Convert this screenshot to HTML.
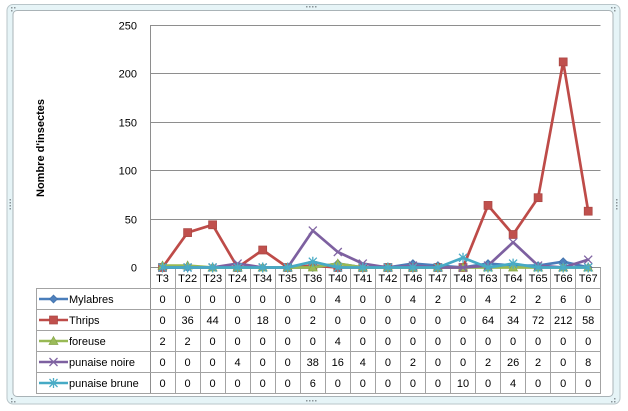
<!DOCTYPE html>
<html><head><meta charset="utf-8"><style>
html,body{margin:0;padding:0;background:#fff;}
svg{display:block;font-family:"Liberation Sans",sans-serif;}
</style></head><body>
<svg width="628" height="411" viewBox="0 0 628 411" xmlns="http://www.w3.org/2000/svg">
<defs>
<g id="mDia"><path d="M0,-4 L4,0 L0,4 L-4,0 Z" fill="#4F81BD" stroke="#3f6fa8" stroke-width="0.7"/></g>
<g id="mSq"><rect x="-4" y="-4" width="8" height="8" fill="#C0504D" stroke="#a84542" stroke-width="0.7"/></g>
<g id="mTri"><path d="M0,-4.5 L4.5,3.5 L-4.5,3.5 Z" fill="#9BBB59" stroke="#86a64a" stroke-width="0.7"/></g>
<g id="mX"><path d="M-4,-4 L4,4 M-4,4 L4,-4" stroke="#8064A2" stroke-width="1.3" fill="none"/></g>
<g id="mStar"><path d="M-4,-4 L4,4 M-4,4 L4,-4 M0,-5 L0,5" stroke="#4BACC6" stroke-width="1.3" fill="none"/></g>
</defs>
<!-- frame -->
<rect x="7" y="4.5" width="613" height="399.5" rx="6" fill="#e6f4f7" stroke="#b9c6ca" stroke-width="1"/>
<rect x="13" y="10.5" width="600" height="386" rx="4" fill="#ffffff" stroke="#a9b3b7" stroke-width="1"/>
<!-- handles -->
<g fill="#8a9599">
<rect x="306" y="6" width="1.5" height="1.5"/><rect x="309" y="6" width="1.5" height="1.5"/><rect x="312" y="6" width="1.5" height="1.5"/><rect x="315" y="6" width="1.5" height="1.5"/>
<rect x="306" y="400" width="1.5" height="1.5"/><rect x="309" y="400" width="1.5" height="1.5"/><rect x="312" y="400" width="1.5" height="1.5"/><rect x="315" y="400" width="1.5" height="1.5"/>
<rect x="9.5" y="199" width="1.5" height="1.5"/><rect x="9.5" y="202" width="1.5" height="1.5"/><rect x="9.5" y="205" width="1.5" height="1.5"/><rect x="9.5" y="208" width="1.5" height="1.5"/>
<rect x="616" y="199" width="1.5" height="1.5"/><rect x="616" y="202" width="1.5" height="1.5"/><rect x="616" y="205" width="1.5" height="1.5"/><rect x="616" y="208" width="1.5" height="1.5"/>
<rect x="11" y="7" width="1.5" height="1.5"/><rect x="14" y="7" width="1.5" height="1.5"/><rect x="11" y="10" width="1.5" height="1.5"/>
<rect x="614" y="398" width="1.5" height="1.5"/><rect x="614" y="401" width="1.5" height="1.5"/><rect x="611" y="401" width="1.5" height="1.5"/>
<rect x="611" y="7" width="1.5" height="1.5"/><rect x="614" y="7" width="1.5" height="1.5"/><rect x="614" y="10" width="1.5" height="1.5"/>
<rect x="11" y="398" width="1.5" height="1.5"/><rect x="11" y="401" width="1.5" height="1.5"/><rect x="14" y="401" width="1.5" height="1.5"/>
</g>
<!-- gridlines -->
<g stroke="#8e8e8e" stroke-width="1">
<line x1="150" y1="25.5" x2="600.5" y2="25.5"/>
<line x1="150" y1="73.5" x2="600.5" y2="73.5"/>
<line x1="150" y1="122.5" x2="600.5" y2="122.5"/>
<line x1="150" y1="170.5" x2="600.5" y2="170.5"/>
<line x1="150" y1="219.5" x2="600.5" y2="219.5"/>
<line x1="150.5" y1="25" x2="150.5" y2="393.5"/>
</g>
<!-- y tick labels -->
<g font-size="11" text-anchor="end" fill="#000">
<text x="137" y="29.5">250</text>
<text x="137" y="77.5">200</text>
<text x="137" y="126.5">150</text>
<text x="137" y="174.5">100</text>
<text x="137" y="223.5">50</text>
<text x="137" y="271.5">0</text>
</g>
<text transform="translate(44,148) rotate(-90)" font-size="11" font-weight="bold" text-anchor="middle">Nombre d'insectes</text>
<!-- table grid -->
<g stroke="#a3a3a3" stroke-width="1" fill="none">
<line x1="150" y1="267.5" x2="601" y2="267.5" stroke="#8e8e8e"/>
<line x1="36" y1="288.5" x2="601" y2="288.5"/>
<line x1="36" y1="309.5" x2="601" y2="309.5"/>
<line x1="36" y1="330.5" x2="601" y2="330.5"/>
<line x1="36" y1="351.5" x2="601" y2="351.5"/>
<line x1="36" y1="372.5" x2="601" y2="372.5"/>
<line x1="36" y1="393.5" x2="601" y2="393.5"/>
<line x1="36.5" y1="288" x2="36.5" y2="394"/>
<line x1="175.5" y1="267.5" x2="175.5" y2="394"/>
<line x1="200.5" y1="267.5" x2="200.5" y2="394"/>
<line x1="225.5" y1="267.5" x2="225.5" y2="394"/>
<line x1="250.5" y1="267.5" x2="250.5" y2="394"/>
<line x1="275.5" y1="267.5" x2="275.5" y2="394"/>
<line x1="300.5" y1="267.5" x2="300.5" y2="394"/>
<line x1="325.5" y1="267.5" x2="325.5" y2="394"/>
<line x1="350.5" y1="267.5" x2="350.5" y2="394"/>
<line x1="375.5" y1="267.5" x2="375.5" y2="394"/>
<line x1="400.5" y1="267.5" x2="400.5" y2="394"/>
<line x1="425.5" y1="267.5" x2="425.5" y2="394"/>
<line x1="450.5" y1="267.5" x2="450.5" y2="394"/>
<line x1="475.5" y1="267.5" x2="475.5" y2="394"/>
<line x1="500.5" y1="267.5" x2="500.5" y2="394"/>
<line x1="525.5" y1="267.5" x2="525.5" y2="394"/>
<line x1="550.5" y1="267.5" x2="550.5" y2="394"/>
<line x1="575.5" y1="267.5" x2="575.5" y2="394"/>
<line x1="600.5" y1="267.5" x2="600.5" y2="394"/>
</g>
<!-- category labels -->
<g font-size="11" text-anchor="middle" fill="#000">
<text x="162.5" y="282">T3</text><text x="187.6" y="282">T22</text><text x="212.6" y="282">T23</text><text x="237.6" y="282">T24</text><text x="262.7" y="282">T34</text><text x="287.7" y="282">T35</text><text x="312.8" y="282">T36</text><text x="337.8" y="282">T40</text><text x="362.8" y="282">T41</text><text x="387.9" y="282">T42</text><text x="412.9" y="282">T46</text><text x="437.9" y="282">T47</text><text x="463" y="282">T48</text><text x="488" y="282">T63</text><text x="513.1" y="282">T64</text><text x="538.1" y="282">T65</text><text x="563.2" y="282">T66</text><text x="588.2" y="282">T67</text>
</g>
<!-- table values -->
<g font-size="11" text-anchor="middle" fill="#000">
<g transform="translate(0,303)">
<text x="162.5">0</text><text x="187.6">0</text><text x="212.6">0</text><text x="237.6">0</text><text x="262.7">0</text><text x="287.7">0</text><text x="312.8">0</text><text x="337.8">4</text><text x="362.8">0</text><text x="387.9">0</text><text x="412.9">4</text><text x="437.9">2</text><text x="463">0</text><text x="488">4</text><text x="513.1">2</text><text x="538.1">2</text><text x="563.2">6</text><text x="588.2">0</text>
</g>
<g transform="translate(0,324)">
<text x="162.5">0</text><text x="187.6">36</text><text x="212.6">44</text><text x="237.6">0</text><text x="262.7">18</text><text x="287.7">0</text><text x="312.8">2</text><text x="337.8">0</text><text x="362.8">0</text><text x="387.9">0</text><text x="412.9">0</text><text x="437.9">0</text><text x="463">0</text><text x="488">64</text><text x="513.1">34</text><text x="538.1">72</text><text x="563.2">212</text><text x="588.2">58</text>
</g>
<g transform="translate(0,345)">
<text x="162.5">2</text><text x="187.6">2</text><text x="212.6">0</text><text x="237.6">0</text><text x="262.7">0</text><text x="287.7">0</text><text x="312.8">0</text><text x="337.8">4</text><text x="362.8">0</text><text x="387.9">0</text><text x="412.9">0</text><text x="437.9">0</text><text x="463">0</text><text x="488">0</text><text x="513.1">0</text><text x="538.1">0</text><text x="563.2">0</text><text x="588.2">0</text>
</g>
<g transform="translate(0,366)">
<text x="162.5">0</text><text x="187.6">0</text><text x="212.6">0</text><text x="237.6">4</text><text x="262.7">0</text><text x="287.7">0</text><text x="312.8">38</text><text x="337.8">16</text><text x="362.8">4</text><text x="387.9">0</text><text x="412.9">2</text><text x="437.9">0</text><text x="463">0</text><text x="488">2</text><text x="513.1">26</text><text x="538.1">2</text><text x="563.2">0</text><text x="588.2">8</text>
</g>
<g transform="translate(0,387)">
<text x="162.5">0</text><text x="187.6">0</text><text x="212.6">0</text><text x="237.6">0</text><text x="262.7">0</text><text x="287.7">0</text><text x="312.8">6</text><text x="337.8">0</text><text x="362.8">0</text><text x="387.9">0</text><text x="412.9">0</text><text x="437.9">0</text><text x="463">10</text><text x="488">0</text><text x="513.1">4</text><text x="538.1">0</text><text x="563.2">0</text><text x="588.2">0</text>
</g>
</g>
<!-- legend -->
<g font-size="11" fill="#000">
<line x1="39" y1="299" x2="68" y2="299" stroke="#4A7EBB" stroke-width="2.5"/><use href="#mDia" x="53.5" y="299"/><text x="69" y="303">Mylabres</text>
<line x1="39" y1="320" x2="68" y2="320" stroke="#BE4B48" stroke-width="2.5"/><use href="#mSq" x="53.5" y="320"/><text x="69" y="324">Thrips</text>
<line x1="39" y1="341" x2="68" y2="341" stroke="#98B954" stroke-width="2.5"/><use href="#mTri" x="53.5" y="341"/><text x="69" y="345">foreuse</text>
<line x1="39" y1="362" x2="68" y2="362" stroke="#7D60A0" stroke-width="2.5"/><use href="#mX" x="53.5" y="362"/><text x="69" y="366">punaise noire</text>
<line x1="39" y1="383" x2="68" y2="383" stroke="#46AAC5" stroke-width="2.5"/><use href="#mStar" x="53.5" y="383"/><text x="69" y="387">punaise brune</text>
</g>
<!-- series -->
<g fill="none" stroke-width="2.7" stroke-linejoin="round" stroke-linecap="round">
<polyline stroke="#4A7EBB" points="162.5,267.5 187.6,267.5 212.6,267.5 237.6,267.5 262.7,267.5 287.7,267.5 312.8,267.5 337.8,263.6 362.8,267.5 387.9,267.5 412.9,263.6 437.9,265.6 463,267.5 488,263.6 513.1,265.6 538.1,265.6 563.2,261.7 588.2,267.5"/>
</g>
<g>
<use href="#mDia" x="162.5" y="267.5"/><use href="#mDia" x="187.6" y="267.5"/><use href="#mDia" x="212.6" y="267.5"/><use href="#mDia" x="237.6" y="267.5"/><use href="#mDia" x="262.7" y="267.5"/><use href="#mDia" x="287.7" y="267.5"/><use href="#mDia" x="312.8" y="267.5"/><use href="#mDia" x="337.8" y="263.6"/><use href="#mDia" x="362.8" y="267.5"/><use href="#mDia" x="387.9" y="267.5"/><use href="#mDia" x="412.9" y="263.6"/><use href="#mDia" x="437.9" y="265.6"/><use href="#mDia" x="463" y="267.5"/><use href="#mDia" x="488" y="263.6"/><use href="#mDia" x="513.1" y="265.6"/><use href="#mDia" x="538.1" y="265.6"/><use href="#mDia" x="563.2" y="261.7"/><use href="#mDia" x="588.2" y="267.5"/>
</g>
<g fill="none" stroke-width="2.7" stroke-linejoin="round" stroke-linecap="round">
<polyline stroke="#BE4B48" points="162.5,267.5 187.6,232.6 212.6,224.8 237.6,267.5 262.7,250 287.7,267.5 312.8,265.6 337.8,267.5 362.8,267.5 387.9,267.5 412.9,267.5 437.9,267.5 463,267.5 488,205.4 513.1,234.5 538.1,197.7 563.2,61.9 588.2,211.2"/>
</g>
<g>
<use href="#mSq" x="162.5" y="267.5"/><use href="#mSq" x="187.6" y="232.6"/><use href="#mSq" x="212.6" y="224.8"/><use href="#mSq" x="237.6" y="267.5"/><use href="#mSq" x="262.7" y="250"/><use href="#mSq" x="287.7" y="267.5"/><use href="#mSq" x="312.8" y="265.6"/><use href="#mSq" x="337.8" y="267.5"/><use href="#mSq" x="362.8" y="267.5"/><use href="#mSq" x="387.9" y="267.5"/><use href="#mSq" x="412.9" y="267.5"/><use href="#mSq" x="437.9" y="267.5"/><use href="#mSq" x="463" y="267.5"/><use href="#mSq" x="488" y="205.4"/><use href="#mSq" x="513.1" y="234.5"/><use href="#mSq" x="538.1" y="197.7"/><use href="#mSq" x="563.2" y="61.9"/><use href="#mSq" x="588.2" y="211.2"/>
</g>
<g fill="none" stroke-width="2.7" stroke-linejoin="round" stroke-linecap="round">
<polyline stroke="#98B954" points="162.5,265.6 187.6,265.6 212.6,267.5 237.6,267.5 262.7,267.5 287.7,267.5 312.8,267.5 337.8,263.6 362.8,267.5 387.9,267.5 412.9,267.5 437.9,267.5 463,267.5 488,267.5 513.1,267.5 538.1,267.5 563.2,267.5 588.2,267.5"/>
</g>
<g>
<use href="#mTri" x="162.5" y="265.6"/><use href="#mTri" x="187.6" y="265.6"/><use href="#mTri" x="212.6" y="267.5"/><use href="#mTri" x="237.6" y="267.5"/><use href="#mTri" x="262.7" y="267.5"/><use href="#mTri" x="287.7" y="267.5"/><use href="#mTri" x="312.8" y="267.5"/><use href="#mTri" x="337.8" y="263.6"/><use href="#mTri" x="362.8" y="267.5"/><use href="#mTri" x="387.9" y="267.5"/><use href="#mTri" x="412.9" y="267.5"/><use href="#mTri" x="437.9" y="267.5"/><use href="#mTri" x="463" y="267.5"/><use href="#mTri" x="488" y="267.5"/><use href="#mTri" x="513.1" y="267.5"/><use href="#mTri" x="538.1" y="267.5"/><use href="#mTri" x="563.2" y="267.5"/><use href="#mTri" x="588.2" y="267.5"/>
</g>
<g fill="none" stroke-width="2.7" stroke-linejoin="round" stroke-linecap="round">
<polyline stroke="#7D60A0" points="162.5,267.5 187.6,267.5 212.6,267.5 237.6,263.6 262.7,267.5 287.7,267.5 312.8,230.6 337.8,252 362.8,263.6 387.9,267.5 412.9,265.6 437.9,267.5 463,267.5 488,265.6 513.1,242.3 538.1,265.6 563.2,267.5 588.2,259.7"/>
</g>
<g>
<use href="#mX" x="162.5" y="267.5"/><use href="#mX" x="187.6" y="267.5"/><use href="#mX" x="212.6" y="267.5"/><use href="#mX" x="237.6" y="263.6"/><use href="#mX" x="262.7" y="267.5"/><use href="#mX" x="287.7" y="267.5"/><use href="#mX" x="312.8" y="230.6"/><use href="#mX" x="337.8" y="252"/><use href="#mX" x="362.8" y="263.6"/><use href="#mX" x="387.9" y="267.5"/><use href="#mX" x="412.9" y="265.6"/><use href="#mX" x="437.9" y="267.5"/><use href="#mX" x="463" y="267.5"/><use href="#mX" x="488" y="265.6"/><use href="#mX" x="513.1" y="242.3"/><use href="#mX" x="538.1" y="265.6"/><use href="#mX" x="563.2" y="267.5"/><use href="#mX" x="588.2" y="259.7"/>
</g>
<g fill="none" stroke-width="2.7" stroke-linejoin="round" stroke-linecap="round">
<polyline stroke="#46AAC5" points="162.5,267.5 187.6,267.5 212.6,267.5 237.6,267.5 262.7,267.5 287.7,267.5 312.8,261.7 337.8,267.5 362.8,267.5 387.9,267.5 412.9,267.5 437.9,267.5 463,257.8 488,267.5 513.1,263.6 538.1,267.5 563.2,267.5 588.2,267.5"/>
</g>
<g>
<use href="#mStar" x="162.5" y="267.5"/><use href="#mStar" x="187.6" y="267.5"/><use href="#mStar" x="212.6" y="267.5"/><use href="#mStar" x="237.6" y="267.5"/><use href="#mStar" x="262.7" y="267.5"/><use href="#mStar" x="287.7" y="267.5"/><use href="#mStar" x="312.8" y="261.7"/><use href="#mStar" x="337.8" y="267.5"/><use href="#mStar" x="362.8" y="267.5"/><use href="#mStar" x="387.9" y="267.5"/><use href="#mStar" x="412.9" y="267.5"/><use href="#mStar" x="437.9" y="267.5"/><use href="#mStar" x="463" y="257.8"/><use href="#mStar" x="488" y="267.5"/><use href="#mStar" x="513.1" y="263.6"/><use href="#mStar" x="538.1" y="267.5"/><use href="#mStar" x="563.2" y="267.5"/><use href="#mStar" x="588.2" y="267.5"/>
</g>
</svg>
</body></html>
